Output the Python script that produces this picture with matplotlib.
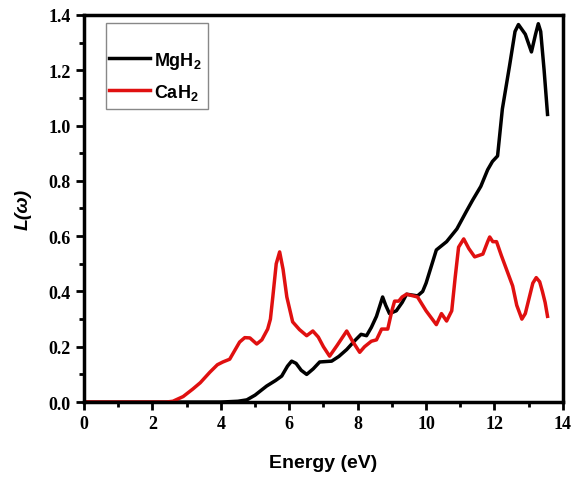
import numpy as np
import matplotlib
matplotlib.use('Agg')
import matplotlib.pyplot as plt
from matplotlib.ticker import MultipleLocator, FormatStrFormatter
from matplotlib.patches import Rectangle

# loss function L(w) vs photon energy
e_mg = [0, 4.0, 4.5, 4.76, 5.0, 5.34, 5.6, 5.78, 5.95, 6.07, 6.2, 6.35, 6.51, 6.7, 6.89,
        7.24, 7.45, 7.68, 7.9, 8.1, 8.26, 8.4, 8.55, 8.73, 8.82, 8.93, 9.13, 9.3, 9.43,
        9.75, 9.9, 10.0, 10.15, 10.3, 10.6, 10.9, 11.18, 11.36, 11.6, 11.8, 11.94, 12.09,
        12.23, 12.44, 12.6, 12.7, 12.9, 13.08, 13.2, 13.28, 13.35, 13.45, 13.55]
l_mg = [0, 0, 0.003, 0.008, 0.025, 0.058, 0.078, 0.094, 0.13, 0.148, 0.14, 0.115, 0.10,
        0.12, 0.145, 0.148, 0.165, 0.19, 0.22, 0.245, 0.24, 0.27, 0.31, 0.38, 0.35, 0.32,
        0.33, 0.36, 0.39, 0.384, 0.40, 0.43, 0.49, 0.55, 0.58, 0.626, 0.69, 0.73, 0.78,
        0.84, 0.87, 0.89, 1.06, 1.216, 1.34, 1.365, 1.33, 1.266, 1.33, 1.368, 1.34, 1.2, 1.04]

e_ca = [0, 2.4, 2.6, 2.9, 3.18, 3.4, 3.68, 3.9, 4.06, 4.26, 4.4, 4.55, 4.7, 4.85, 5.05,
        5.2, 5.37, 5.45, 5.52, 5.62, 5.72, 5.82, 5.93, 6.1, 6.3, 6.51, 6.69, 6.85, 7.0,
        7.18, 7.4, 7.68, 7.85, 8.06, 8.2, 8.4, 8.55, 8.7, 8.88, 9.0, 9.08, 9.2, 9.3, 9.43,
        9.75, 10.0, 10.3, 10.45, 10.6, 10.75, 10.85, 10.95, 11.1, 11.25, 11.42, 11.66,
        11.8, 11.86, 11.95, 12.06, 12.2, 12.35, 12.53, 12.65, 12.8, 12.9, 13.02, 13.12,
        13.22, 13.32, 13.4, 13.48, 13.55]
l_ca = [0, 0, 0.003, 0.02, 0.047, 0.07, 0.108, 0.135, 0.145, 0.155, 0.185, 0.217, 0.233,
        0.232, 0.21, 0.225, 0.264, 0.30, 0.38, 0.50, 0.543, 0.48, 0.38, 0.29, 0.262, 0.24,
        0.257, 0.235, 0.20, 0.166, 0.205, 0.257, 0.22, 0.18, 0.20, 0.22, 0.225, 0.264,
        0.264, 0.33, 0.365, 0.365, 0.38, 0.39, 0.38, 0.33, 0.28, 0.32, 0.293, 0.33, 0.45,
        0.56, 0.59, 0.555, 0.525, 0.535, 0.58, 0.597, 0.58, 0.58, 0.53, 0.48, 0.42, 0.35,
        0.30, 0.32, 0.38, 0.43, 0.45, 0.435, 0.40, 0.36, 0.31]

plt.rcParams['mathtext.fontset'] = 'custom'
plt.rcParams['mathtext.bf'] = 'Liberation Sans:bold'
plt.rcParams['mathtext.rm'] = 'Liberation Sans:bold'

fig = plt.figure(figsize=(5.75, 4.81), dpi=100)
ax = fig.add_axes([0.146, 0.162, 0.833, 0.805])

ax.plot(e_mg, l_mg, color='black', lw=2.5, label='MgH$_\\mathbf{2}$')
ax.plot(e_ca, l_ca, color='#e01010', lw=2.5, label='CaH$_\\mathbf{2}$')

ax.set_xlim(0, 14)
ax.set_ylim(0, 1.4)
ax.xaxis.set_major_locator(MultipleLocator(2))
ax.xaxis.set_minor_locator(MultipleLocator(1))
ax.yaxis.set_major_locator(MultipleLocator(0.2))
ax.yaxis.set_minor_locator(MultipleLocator(0.1))
ax.yaxis.set_major_formatter(FormatStrFormatter('%.1f'))

for s in ax.spines.values():
    s.set_linewidth(2.5)
ax.tick_params(which='major', direction='out', length=6, width=2)
ax.tick_params(which='minor', direction='out', length=3.5, width=2)
for lab in ax.get_xticklabels() + ax.get_yticklabels():
    lab.set_fontfamily('Liberation Serif')
    lab.set_fontweight('bold')
    lab.set_fontsize(13)

ax.set_xlabel('Energy (eV)', fontfamily='Liberation Sans', fontweight='bold',
              fontsize=14, labelpad=16)
ax.set_ylabel('L(ω)', fontfamily='Liberation Sans', fontweight='bold',
              fontstyle='italic', fontsize=14, labelpad=12)

# legend box drawn separately so it can have the tall padding
ax.add_patch(Rectangle((0.046, 0.757), 0.213, 0.222, transform=ax.transAxes,
                       fill=False, edgecolor='#888888', lw=1, zorder=4))
leg = ax.legend(loc='upper left', bbox_to_anchor=(0.052, 0.91), frameon=False,
                handlelength=2.3, handletextpad=0.2, borderpad=0, borderaxespad=0,
                prop={'family': 'Liberation Sans', 'weight': 'bold', 'size': 13},
                labelspacing=0.6)

fig.savefig('out.png', dpi=100)
